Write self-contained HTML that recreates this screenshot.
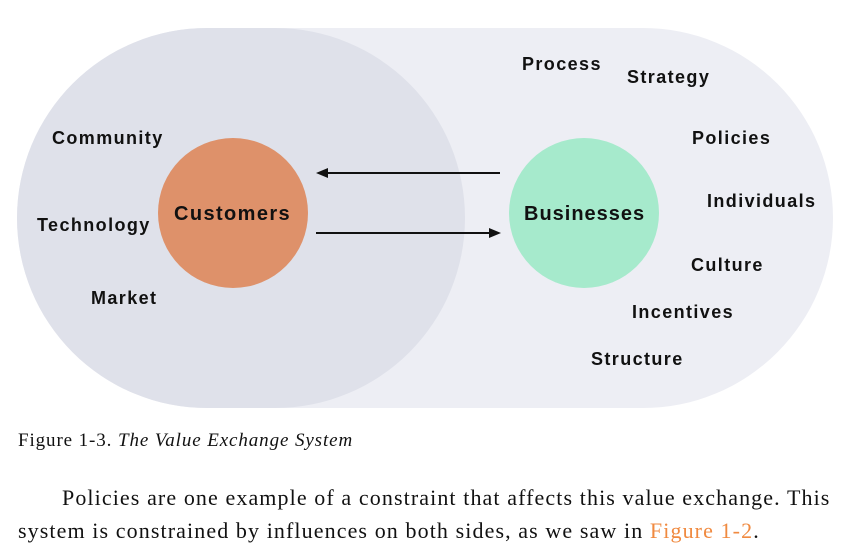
<!DOCTYPE html>
<html><head><style>
body{margin:0;width:848px;height:550px;background:#fff;position:relative;overflow:hidden;font-family:"Liberation Sans",sans-serif}
.t{position:absolute;font-weight:bold;font-size:18px;color:#111;white-space:nowrap;line-height:1;letter-spacing:1.4px}
.s{position:absolute;font-family:"Liberation Serif",serif;color:#111;white-space:nowrap;line-height:1}
</style></head><body>
<svg width="848" height="420" style="position:absolute;left:0;top:0">
<rect x="17" y="28" width="816" height="380" rx="190" fill="#edeef4"/>
<rect x="17" y="28" width="448" height="380" rx="190" fill="#dfe1ea"/>
<circle cx="233" cy="213" r="75" fill="#de916a"/>
<circle cx="584" cy="213" r="75" fill="#a6eacc"/>
<line x1="500" y1="173" x2="326" y2="173" stroke="#111" stroke-width="2"/>
<polygon points="316,173 328,168 328,178" fill="#111"/>
<line x1="316" y1="233" x2="490" y2="233" stroke="#111" stroke-width="2"/>
<polygon points="501,233 489,228 489,238" fill="#111"/>
</svg>
<div class="t" style="left:174px;top:204px;font-size:20px">Customers</div>
<div class="t" style="left:524px;top:204px;font-size:20px;letter-spacing:1px">Businesses</div>
<div class="t" style="left:52px;top:129px">Community</div>
<div class="t" style="left:37px;top:216px">Technology</div>
<div class="t" style="left:91px;top:289px">Market</div>
<div class="t" style="left:522px;top:55px">Process</div>
<div class="t" style="left:627px;top:68px">Strategy</div>
<div class="t" style="left:692px;top:129px">Policies</div>
<div class="t" style="left:707px;top:192px">Individuals</div>
<div class="t" style="left:691px;top:256px">Culture</div>
<div class="t" style="left:632px;top:303px">Incentives</div>
<div class="t" style="left:591px;top:350px">Structure</div>
<div class="s" style="left:18px;top:431px;font-size:19px;letter-spacing:0.9px">Figure 1-3. <i>The Value Exchange System</i></div>
<div class="s" style="left:62px;top:487px;font-size:22px;letter-spacing:1.1px">Policies are one example of a constraint that affects this value exchange. This</div>
<div class="s" style="left:18px;top:520px;font-size:22px;letter-spacing:1.1px">system is constrained by influences on both sides, as we saw in <span style="color:#f08a40">Figure 1-2</span>.</div>
</body></html>
